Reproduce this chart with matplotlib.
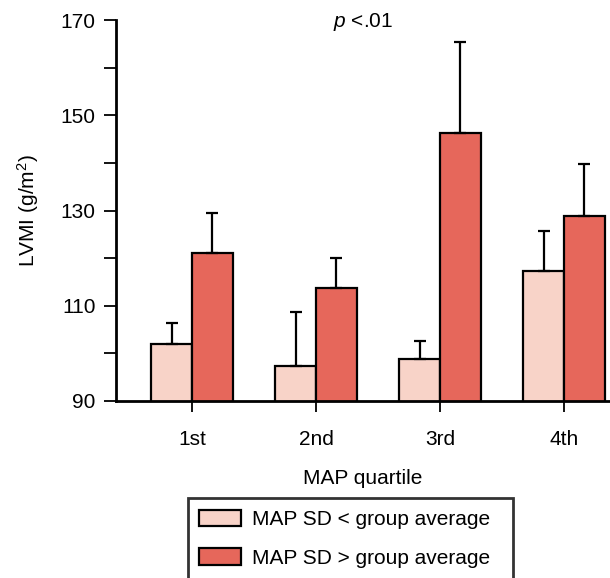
import matplotlib.pyplot as plt
import numpy as np

plt.rcParams['font.family'] = ['Liberation Sans', 'DejaVu Sans']
plt.rcParams['font.size'] = 15
plt.rcParams['mathtext.fontset'] = 'custom'
plt.rcParams['mathtext.rm'] = 'Liberation Sans'
plt.rcParams['mathtext.it'] = 'Liberation Sans:italic'

# data
quartiles = ['1st', '2nd', '3rd', '4th']
low_sd_mean = [101.9, 97.3, 98.8, 117.3]
low_sd_err = [4.4, 11.3, 3.8, 8.5]
high_sd_mean = [121.0, 113.8, 146.3, 128.8]
high_sd_err = [8.5, 6.3, 19.1, 11.0]
series_labels = ['MAP SD < group average', 'MAP SD > group average']

LIGHT = '#F8D3C8'
DARK = '#E6675B'

fig = plt.figure(figsize=(6.1, 5.78), dpi=100)
ax = fig.add_axes([116 / 610, 1 - 401 / 578, 494 / 610, 381 / 578])

x = np.arange(len(quartiles))
w = 0.33
err_kw = dict(elinewidth=1.6, capthick=1.6, capsize=4.5, ecolor='black')

b1 = ax.bar(x - w / 2, low_sd_mean, w, color=LIGHT, edgecolor='black', linewidth=1.6,
            yerr=[np.zeros(4), low_sd_err], error_kw=err_kw, label=series_labels[0], zorder=2)
b2 = ax.bar(x + w / 2, high_sd_mean, w, color=DARK, edgecolor='black', linewidth=1.6,
            yerr=[np.zeros(4), high_sd_err], error_kw=err_kw, label=series_labels[1], zorder=2)

ax.set_ylim(90, 170)
ax.set_xlim(-0.613, 3.371)
ax.set_yticks([90, 110, 130, 150, 170])
ax.set_yticks([100, 120, 140, 160], minor=True)
ax.set_xticks(x)
ax.set_xticklabels(quartiles)

for s in ['top', 'right']:
    ax.spines[s].set_visible(False)
for s in ['left', 'bottom']:
    ax.spines[s].set_linewidth(2)

ax.tick_params(axis='y', which='both', direction='out', length=8.6, width=1.3, pad=6)
ax.tick_params(axis='x', direction='out', length=8, width=1.3, pad=13)

ax.set_xlabel('MAP quartile', labelpad=14)
ax.set_ylabel('LVMI (g/m$^2$)', labelpad=14)

ax.text(0.5, 0.995, r'$\mathit{p}$ <.01', transform=ax.transAxes, ha='center', va='center')

# legend box: left 188px, right 513px, top 499px (runs off the bottom)
leg = fig.legend(handles=[b1, b2], labels=series_labels, loc='upper left',
                 bbox_to_anchor=(188 / 610, 1 - 499 / 578, 325 / 610, 0.001), mode='expand',
                 frameon=True, fancybox=False,
                 edgecolor='black', handlelength=2.0, handleheight=0.85, borderpad=0.55,
                 labelspacing=0.9, handletextpad=0.5, borderaxespad=0)
leg.get_frame().set_linewidth(2)

fig.savefig('out.png', dpi=100)
